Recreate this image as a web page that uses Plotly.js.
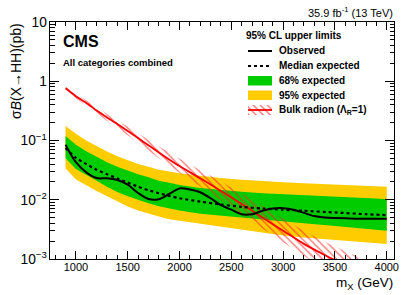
<!DOCTYPE html>
<html>
<head>
<meta charset="utf-8">
<script src="https://cdn.plot.ly/plotly-3.0.1.min.js"></script>
<style>html,body{margin:0;padding:0;background:#fff;}#chart{width:411px;height:295px;}</style>
</head>
<body>
<div id="chart"></div>
<script>
// ---- data ----
var massBand = [900,1000,1100,1200,1300,1400,1500,1600,1700,1800,1900,2000,2200,2400,2600,2800,3000,3200,3500,3800,4000];
var expMedian = [0.075,0.051,0.040,0.032,0.027,0.0228,0.0195,0.0166,0.0145,0.0129,0.0116,0.0106,0.0093,0.0083,0.0076,0.0071,0.0068,0.0065,0.0061,0.0057,0.0055];
var exp68Up   = [0.119,0.085,0.066,0.053,0.043,0.036,0.031,0.027,0.024,0.021,0.0193,0.0178,0.0158,0.0145,0.0136,0.0129,0.0124,0.0119,0.0112,0.0106,0.0103];
var exp68Down = [0.050,0.033,0.026,0.021,0.0165,0.0135,0.0115,0.0099,0.0087,0.0078,0.0071,0.0066,0.0058,0.0054,0.0050,0.0046,0.0043,0.0040,0.0036,0.0032,0.0030];
var exp95Up   = [0.176,0.130,0.100,0.080,0.065,0.054,0.046,0.040,0.036,0.032,0.030,0.028,0.0255,0.0232,0.0218,0.0206,0.0197,0.0190,0.0182,0.0172,0.0166];
var exp95Down = [0.034,0.022,0.0175,0.014,0.0113,0.0093,0.0077,0.0066,0.0058,0.0052,0.0047,0.0044,0.0040,0.0035,0.0032,0.0028,0.0025,0.0023,0.0021,0.0019,0.0018];

var massObs = [900,1000,1100,1200,1300,1400,1500,1600,1700,1800,1900,2000,2100,2200,2300,2400,2500,2600,2700,2800,2900,3000,3100,3200,3300,3400,3500,3700,4000];
var observed = [0.085,0.043,0.029,0.0232,0.0230,0.0215,0.0180,0.0130,0.0103,0.0102,0.0125,0.0155,0.0149,0.0134,0.0106,0.0081,0.0068,0.0057,0.0057,0.0065,0.0071,0.0072,0.0068,0.0060,0.0053,0.0050,0.0049,0.0048,0.0048];

var massRadion = [900,1000,1100,1200,1300,1400,1500,1600,1700,1800,1900,2000,2200,2400,2600,2800,3000,3200,3400,3600,3800];
var radion     = [0.76,0.56,0.43,0.32,0.245,0.19,0.145,0.11,0.083,0.063,0.048,0.037,0.023,0.0141,0.0085,0.0050,0.0030,0.0018,0.00117,0.00079,0.00055];
var radionUp   = [0.81,0.62,0.47,0.36,0.28,0.22,0.17,0.132,0.102,0.079,0.062,0.049,0.032,0.0204,0.0129,0.0078,0.0048,0.0030,0.00195,0.00135,0.00095];
var radionDown = [0.71,0.51,0.385,0.29,0.214,0.164,0.123,0.091,0.068,0.050,0.037,0.028,0.0166,0.0098,0.0056,0.0032,0.0019,0.00112,0.00071,0.00047,0.00032];

var xTickVals = [1000,1500,2000,2500,3000,3500,4000];
var legendLabels = ['95% CL upper limits','Observed','Median expected','68% expected','95% expected','Bulk radion (\u039B<sub>R</sub>=1)'];

// ---- styling ----
var YELLOW = 'rgb(255,204,0)';
var GREEN = 'rgb(0,204,0)';
var RED = 'rgb(255,0,0)';
var FONT = 'Liberation Sans, Arial, Helvetica, sans-serif';
var HATCH = {shape:'\\', size:5, solidity:0.28, fgcolor:'rgba(255,40,40,0.65)', bgcolor:'rgba(0,0,0,0)', fillmode:'replace'};

function band(x, up, down) {
  return {x: x.concat(x.slice().reverse()), y: up.concat(down.slice().reverse())};
}
var b95 = band(massBand, exp95Up, exp95Down);
var b68 = band(massBand, exp68Up, exp68Down);
var bRad = band(massRadion, radionUp, radionDown);

// plot area in pixels
var L = 50, R = 394, T = 22, B = 259;
function px(x){ return (x - L)/(R - L); }
function py(y){ return (B - y)/(B - T); }

var traces = [
  {x:b95.x, y:b95.y, type:'scatter', mode:'lines', fill:'toself', fillcolor:YELLOW, line:{width:0}, hoverinfo:'skip', showlegend:false},
  {x:b68.x, y:b68.y, type:'scatter', mode:'lines', fill:'toself', fillcolor:GREEN, line:{width:0}, hoverinfo:'skip', showlegend:false},
  {x:bRad.x, y:bRad.y, type:'scatter', mode:'lines', fill:'toself', fillcolor:'rgba(0,0,0,0)', fillpattern:HATCH, line:{width:0}, hoverinfo:'skip', showlegend:false},
  {x:massRadion, y:radion, type:'scatter', mode:'lines', line:{color:RED, width:1.8, shape:'spline', smoothing:0.6}, showlegend:false},
  {x:massBand, y:expMedian, type:'scatter', mode:'lines', line:{color:'black', width:2.2, dash:'dot', shape:'spline', smoothing:0.6}, showlegend:false},
  {x:massObs, y:observed, type:'scatter', mode:'lines', line:{color:'black', width:2, shape:'spline', smoothing:0.8}, showlegend:false},
  // legend hatched box (on pixel-overlay axes)
  {x:[248,272,272,248], y:[105,105,115,115], xaxis:'x2', yaxis:'y2', type:'scatter', mode:'lines', fill:'toself', fillcolor:'rgba(0,0,0,0)', fillpattern:HATCH, line:{width:0}, hoverinfo:'skip', showlegend:false}
];

var shapes = [
  {type:'line', xref:'x2', yref:'y2', x0:248, x1:272, y0:51, y1:51, line:{color:'black', width:2}},
  {type:'line', xref:'x2', yref:'y2', x0:248, x1:272, y0:66, y1:66, line:{color:'black', width:2, dash:'dot'}},
  {type:'rect', xref:'x2', yref:'y2', x0:248, x1:272, y0:76, y1:85.5, fillcolor:GREEN, line:{width:0}},
  {type:'rect', xref:'x2', yref:'y2', x0:248, x1:272, y0:90.5, y1:100, fillcolor:YELLOW, line:{width:0}},
  {type:'line', xref:'x2', yref:'y2', x0:248, x1:272, y0:110, y1:110, line:{color:RED, width:1.8}}
];

function ann(text, x, y, size, opts) {
  var a = {text:text, xref:'paper', yref:'paper', x:px(x), y:py(y), showarrow:false,
           font:{family:FONT, size:size, color:'black'}, xanchor:'left', yanchor:'middle'};
  for (var k in opts) a[k] = opts[k];
  return a;
}
var legY = [36, 51, 66, 80.7, 95, 110];
var annotations = [
  ann('<b>CMS</b>', 61, 41, 16),
  ann('<b>All categories combined</b>', 61, 62, 9.5),
  ann('35.9 fb<sup>-1</sup> (13 TeV)', 395, 12, 11, {xanchor:'right'}),
  ann('m<sub>X</sub> (GeV)', 395, 283, 13.5, {xanchor:'right'}),
  ann('\u03C3<i>B</i>(X\u2192HH)(pb)', 16, 21, 14, {xanchor:'center', yanchor:'top', textangle:-90})
];
for (var i = 0; i < legendLabels.length; i++) {
  annotations.push(ann('<b>' + legendLabels[i] + '</b>', i === 0 ? 244 : 277, legY[i], 10));
}

var layout = {
  width:411, height:295,
  margin:{l:L, r:411-R, t:T, b:295-B, pad:0},
  paper_bgcolor:'white', plot_bgcolor:'white',
  showlegend:false,
  font:{family:FONT, size:11, color:'black'},
  xaxis:{range:[750,4070], tickvals:xTickVals, ticks:'inside', ticklen:8, tickwidth:1, tickcolor:'black',
         minor:{dtick:100, tick0:0, ticks:'inside', ticklen:4, tickcolor:'black', showgrid:false},
         showline:true, linecolor:'black', linewidth:1, mirror:'allticks', showgrid:false, zeroline:false,
         ticklabelstandoff:-2,
         tickfont:{family:FONT, size:11}},
  yaxis:{type:'log', range:[-3,1], dtick:1, exponentformat:'power', ticks:'inside', ticklen:9, tickwidth:1, tickcolor:'black',
         minor:{dtick:'D1', ticks:'inside', ticklen:4.5, tickcolor:'black', showgrid:false},
         showline:true, linecolor:'black', linewidth:1, mirror:'allticks', showgrid:false, zeroline:false,
         tickfont:{family:FONT, size:11}},
  xaxis2:{overlaying:'x', range:[L,R], visible:false, fixedrange:true},
  yaxis2:{overlaying:'y', range:[B,T], visible:false, fixedrange:true},
  shapes:shapes,
  annotations:annotations
};

Plotly.newPlot('chart', traces, layout, {displayModeBar:false, staticPlot:true});
</script>
</body>
</html>
